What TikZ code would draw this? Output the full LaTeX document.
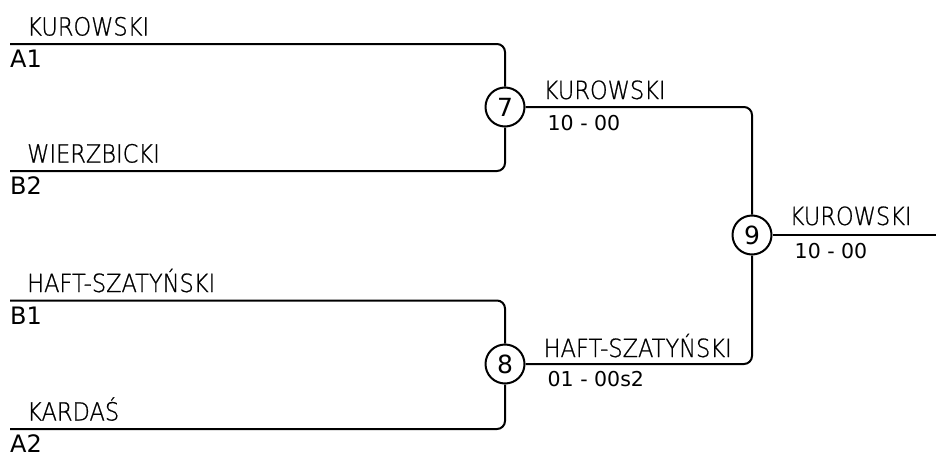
\documentclass[tikz,border=0pt]{standalone}
\usepackage{fontspec}
\setmainfont{DejaVu Sans}
\newfontfamily\namefont[FakeStretch=0.9,FakeBold=0.8]{DejaVu Sans ExtraLight}

\begin{document}
\begin{tikzpicture}[x=1pt,y=-1pt,
        line/.style={line width=2pt,rounded corners=8pt},
        match/.style={draw,circle,line width=2pt,minimum size=39pt,inner sep=0pt,font=\fontsize{25}{25}\selectfont},
        player/.style={anchor=base west,inner sep=0pt,font=\namefont\fontsize{25}{26}\selectfont},
        seed/.style={anchor=base west,inner sep=0pt,font=\fontsize{24}{26}\selectfont},
        score/.style={anchor=base west,inner sep=0pt,font=\fontsize{20.5}{22}\selectfont}]
            \useasboundingbox (0,0) rectangle (936,455);

            % matches
            \node[match] (m7) at (505,107) {7};
            \node[match] (m8) at (505,364) {8};
            \node[match] (m9) at (752,235) {9};
            \coordinate (fin) at (936,235);

            % first round
            \foreach \p/\y/\nm/\sd in {s1/44/KUROWSKI/A1, s2/171/WIERZBICKI/B2, s3/300.5/HAFT-SZATYŃSKI/B1, s4/429/KARDAŚ/A2}{
                \coordinate (\p) at (10,\y);
                \node[player] (\p n) at ([xshift=17pt,yshift=8.5pt]\p) {\nm};
                \node[seed] (\p s) at ([yshift=-23.5pt]\p) {\sd};
            }
            \draw[line] (s1) -| (m7.north);
            \draw[line] (s2) -| (m7.south);
            \draw[line] (s3) -| (m8.north);
            \draw[line] (s4) -| (m8.south);

            % later rounds
            \draw[line] (m7.east) -| (m9.north);
            \draw[line] (m8.east) -| (m9.south);
            \draw[line] (m9.east) -- (fin);

            \node[player] (w7) at ([xshift=18pt,yshift=8pt]m7.east) {KUROWSKI};
            \node[score] (r7) at ([xshift=22pt,yshift=-23pt]m7.east) {10 - 00};
            \node[player] (w8) at ([xshift=18pt,yshift=7pt]m8.east) {HAFT-SZATYŃSKI};
            \node[score] (r8) at ([xshift=22pt,yshift=-22pt]m8.east) {01 - 00s2};
            \node[player] (w9) at ([xshift=17pt,yshift=10pt]m9.east) {KUROWSKI};
            \node[score] (r9) at ([xshift=22pt,yshift=-23pt]m9.east) {10 - 00};
        \end{tikzpicture}
\end{document}
